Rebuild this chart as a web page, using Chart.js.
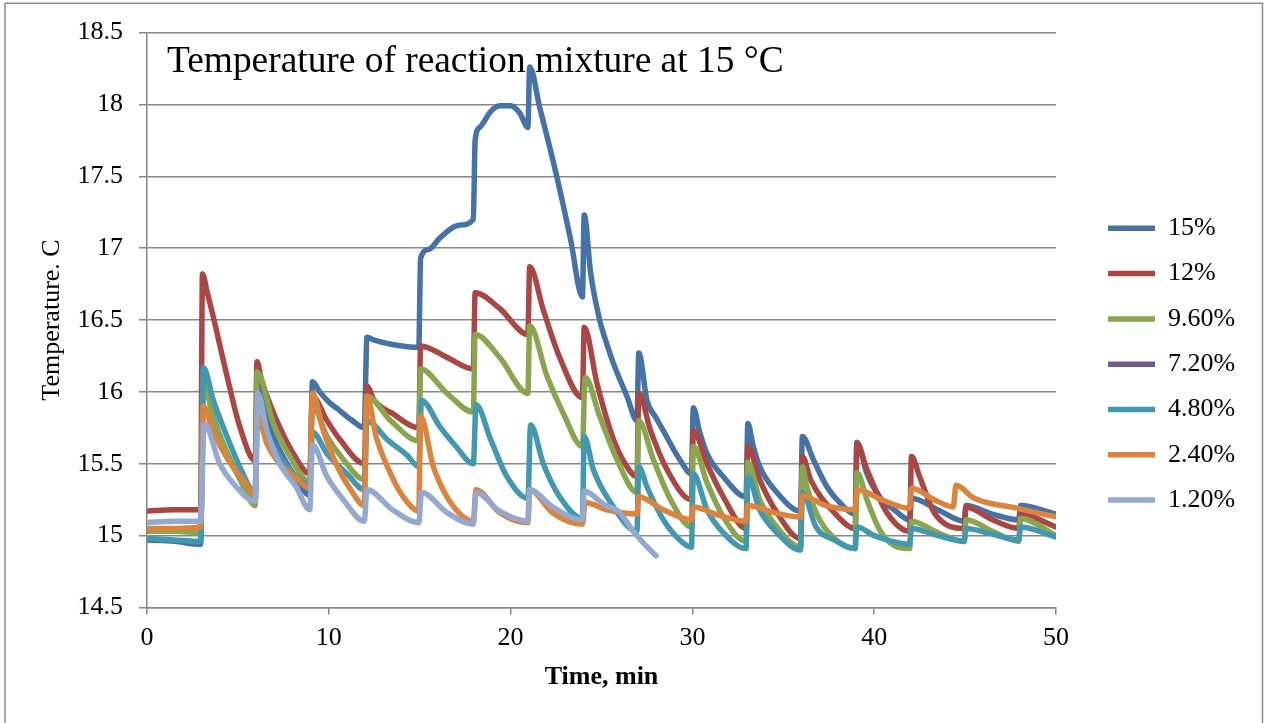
<!DOCTYPE html>
<html>
<head>
<meta charset="utf-8">
<script src="https://cdn.jsdelivr.net/npm/chart.js@4/dist/chart.umd.min.js"></script>
<style>
  html, body { margin: 0; padding: 0; background: #fff; overflow: hidden; }
  canvas { display: block; }
</style>
</head>
<body>
<canvas id="c" width="1266" height="723"></canvas>
<script>
// ---- data: [time (min), temperature (C)] ----
const labels = ['15%', '12%', '9.60%', '7.20%', '4.80%', '2.40%', '1.20%'];
const colors = ['#4572A7', '#AA4643', '#89A54E', '#71588F', '#4198AF', '#DB843D', '#93A9CF'];

const s15 = [[0,14.97],[1.5,14.96],[2.95,14.94],[3.1,16.1],[3.6,15.85],[4.3,15.6],[5.0,15.42],[5.95,15.23],[6.1,16.05],[6.6,15.8],[7.4,15.57],[8.2,15.4],[8.95,15.28],[9.1,16.07],[9.5,16.0],[10.0,15.93],[10.6,15.87],[11.3,15.8],[11.95,15.75],[12.1,16.38],[12.5,16.36],[13.5,16.33],[14.95,16.31],[15.05,16.93],[15.5,16.99],[16.1,17.07],[17.2,17.16],[17.95,17.2],[18.05,17.75],[18.3,17.84],[18.9,17.95],[19.4,17.99],[20.0,17.99],[20.5,17.94],[20.95,17.84],[21.05,18.26],[21.6,17.98],[22.5,17.52],[23.3,17.06],[23.95,16.66],[24.05,17.23],[24.4,16.83],[24.9,16.5],[25.3,16.33],[25.65,16.2],[26.4,15.97],[26.95,15.8],[27.05,16.27],[27.5,15.94],[28.0,15.82],[28.4,15.73],[29.3,15.53],[29.95,15.43],[30.05,15.89],[30.4,15.72],[30.8,15.57],[31.7,15.41],[32.95,15.27],[33.05,15.78],[33.35,15.62],[33.7,15.48],[34.65,15.3],[35.95,15.17],[36.05,15.69],[36.65,15.53],[37.4,15.34],[38.1,15.23],[38.95,15.15],[39.05,15.65],[39.6,15.43],[40.3,15.27],[41.1,15.18],[41.95,15.11],[42.05,15.26],[43.5,15.18],[44.95,15.1],[45.05,15.21],[46.5,15.15],[47.95,15.11],[48.05,15.21],[50,15.15]];

const s12 = [[0,15.17],[1.5,15.18],[2.95,15.18],[3.05,16.82],[3.3,16.7],[3.65,16.52],[4.4,16.11],[5.1,15.76],[5.95,15.52],[6.05,16.21],[6.3,16.08],[6.6,15.97],[7.35,15.74],[8.05,15.57],[8.95,15.43],[9.1,15.97],[9.9,15.8],[10.6,15.67],[11.95,15.5],[12.1,16.04],[12.5,15.94],[13.5,15.85],[14.95,15.75],[15.05,16.32],[16.5,16.24],[17.95,16.16],[18.05,16.69],[19.4,16.58],[20.95,16.4],[21.05,16.87],[21.8,16.57],[22.7,16.24],[23.95,15.96],[24.05,16.45],[24.75,16.06],[25.6,15.69],[26.3,15.5],[26.95,15.41],[27.05,15.99],[27.7,15.73],[28.6,15.46],[29.95,15.25],[30.05,15.73],[30.8,15.5],[31.7,15.27],[32.95,15.05],[33.05,15.62],[33.7,15.39],[34.65,15.16],[35.95,14.98],[36.05,15.55],[36.5,15.39],[37.8,15.16],[38.95,15.05],[39.05,15.64],[39.6,15.46],[40.7,15.16],[41.95,15.03],[42.05,15.55],[42.5,15.41],[43.3,15.16],[44.95,15.05],[45.05,15.2],[46.5,15.11],[47.95,15.05],[48.05,15.15],[50,15.06]];

const s96 = [[0,15.03],[1.5,15.03],[2.95,15.02],[3.1,16.05],[3.7,15.8],[4.4,15.58],[5.1,15.4],[5.95,15.21],[6.05,16.14],[6.95,15.78],[7.87,15.55],[8.95,15.37],[9.1,15.9],[9.9,15.69],[10.8,15.53],[11.95,15.39],[12.1,15.97],[13.4,15.8],[14.95,15.66],[15.05,16.16],[16.5,15.99],[17.95,15.86],[18.05,16.4],[19.4,16.24],[20.95,15.99],[21.05,16.46],[22.0,16.11],[22.9,15.85],[23.95,15.62],[24.1,16.1],[24.9,15.83],[25.85,15.53],[26.95,15.3],[27.05,15.8],[27.85,15.53],[28.8,15.25],[29.95,15.06],[30.05,15.62],[30.8,15.37],[31.7,15.13],[32.95,14.96],[33.05,15.51],[33.7,15.25],[34.65,15.06],[35.95,14.92],[36.05,15.48],[36.3,15.34],[37.0,15.11],[38.1,14.95],[38.95,14.91],[39.05,15.44],[39.6,15.25],[40.3,15.04],[41.1,14.93],[41.95,14.91],[42.05,15.1],[43.5,15.02],[44.95,14.96],[45.05,15.11],[46.5,15.03],[47.95,14.96],[48.05,15.12],[50,15.0]];

const s72 = [];

const s48 = [[0,14.98],[1.5,14.97],[2.95,14.96],[3.1,16.17],[3.65,15.94],[4.4,15.69],[5.1,15.48],[5.95,15.3],[6.05,15.77],[7.3,15.55],[8.2,15.41],[8.95,15.35],[9.1,15.72],[9.9,15.57],[11.0,15.43],[11.95,15.32],[12.1,15.8],[13.2,15.67],[14.3,15.56],[14.95,15.48],[15.1,15.94],[16.1,15.76],[17.0,15.62],[17.95,15.5],[18.1,15.91],[18.9,15.67],[19.8,15.41],[20.95,15.26],[21.1,15.77],[21.8,15.5],[22.7,15.27],[23.95,15.12],[24.05,15.69],[24.55,15.46],[25.5,15.23],[26.95,15.03],[27.05,15.48],[27.5,15.34],[28.4,15.11],[29.3,14.97],[29.95,14.92],[30.05,15.43],[30.8,15.18],[31.7,15.02],[32.95,14.91],[33.05,15.41],[33.7,15.18],[34.65,15.02],[35.95,14.9],[36.05,15.3],[36.8,15.06],[37.8,14.97],[38.95,14.91],[39.05,15.06],[40.0,15.0],[41.95,14.94],[42.05,15.05],[43.5,15.0],[44.95,14.96],[45.05,15.05],[46.5,15.01],[47.95,14.97],[48.05,15.06],[50,14.99]];

const s24 = [[0,15.05],[1.5,15.05],[2.95,15.06],[3.1,15.9],[3.65,15.72],[4.45,15.53],[5.4,15.37],[5.95,15.28],[6.05,15.85],[6.6,15.64],[7.3,15.5],[8.05,15.42],[8.95,15.33],[9.1,15.99],[9.7,15.73],[10.4,15.5],[11.2,15.32],[11.95,15.21],[12.1,15.97],[12.6,15.69],[13.4,15.43],[14.1,15.27],[14.95,15.17],[15.05,15.83],[15.75,15.48],[16.5,15.27],[17.4,15.13],[17.95,15.1],[18.1,15.32],[19.4,15.16],[20.95,15.09],[21.05,15.32],[22.3,15.16],[23.95,15.08],[24.1,15.23],[25.3,15.18],[26.95,15.15],[27.05,15.27],[28.4,15.18],[29.95,15.11],[30.05,15.2],[31.5,15.14],[32.95,15.1],[33.05,15.21],[34.5,15.16],[35.95,15.13],[36.05,15.28],[37.3,15.21],[38.95,15.18],[39.1,15.32],[40.4,15.25],[41.95,15.19],[42.05,15.33],[43.3,15.25],[44.35,15.2],[44.5,15.35],[45.5,15.26],[47.9,15.19],[50,15.13]];

const s12b = [[0,15.09],[1.5,15.1],[2.95,15.1],[3.15,15.78],[4.0,15.5],[4.7,15.37],[5.95,15.24],[6.1,15.99],[6.6,15.73],[7.3,15.5],[8.2,15.34],[8.95,15.18],[9.1,15.63],[9.9,15.41],[10.8,15.25],[11.95,15.1],[12.1,15.32],[13.5,15.18],[14.95,15.09],[15.1,15.3],[16.5,15.16],[17.95,15.08],[18.1,15.3],[19.4,15.17],[20.95,15.1],[21.05,15.32],[22.3,15.2],[23.95,15.11],[24.05,15.31],[25.1,15.22],[26.0,15.16],[26.75,15.03],[27.3,14.95],[28.0,14.86]];

const seriesValues = [s15, s12, s96, s72, s48, s24, s12b];
const xTicks = [0, 10, 20, 30, 40, 50];
const yTicks = [14.5, 15, 15.5, 16, 16.5, 17, 17.5, 18, 18.5];
const chartTitle = 'Temperature of reaction mixture at 15 °C';
const xTitle = 'Time, min';
const yTitle = 'Temperature. C';

// ---- chart ----
const FONT = "'Liberation Serif', 'Times New Roman', serif";
Chart.defaults.font.family = FONT;
Chart.defaults.color = '#000';

const GRID = '#878787';

const framePlugin = {
  id: 'frame',
  beforeDraw(chart) {
    const ctx = chart.ctx;
    ctx.save();
    ctx.fillStyle = '#fff';
    ctx.fillRect(0, 0, chart.width, chart.height);
    ctx.strokeStyle = '#8c8c8c';
    ctx.lineWidth = 1.5;
    ctx.strokeRect(5, 3.3, 1257.5, 740);
    ctx.restore();
  }
};

const innerTitlePlugin = {
  id: 'innerTitle',
  afterDraw(chart) {
    const ctx = chart.ctx;
    ctx.save();
    ctx.font = '37.4px ' + FONT;
    ctx.fillStyle = '#000';
    ctx.textAlign = 'left';
    ctx.textBaseline = 'alphabetic';
    ctx.fillText(chartTitle, chart.chartArea.left + 20, 72);
    ctx.restore();
  }
};

const datasets = labels.map((lab, i) => ({
  label: lab,
  data: seriesValues[i].map(p => ({ x: p[0], y: p[1] })),
  borderColor: colors[i],
  backgroundColor: colors[i],
  borderWidth: 5.5,
  borderCapStyle: 'round',
  borderJoinStyle: 'round',
  pointRadius: 0,
  pointHoverRadius: 0,
  fill: false,
  cubicInterpolationMode: 'monotone',
  order: labels.length - 1 - i
}));

new Chart(document.getElementById('c'), {
  type: 'line',
  data: { datasets },
  options: {
    responsive: false,
    animation: false,
    events: [],
    layout: { padding: { top: 32.5, left: 0, right: 20.8, bottom: 27.1 } },
    plugins: {
      title: { display: false },
      tooltip: { enabled: false },
      legend: {
        display: true,
        position: 'right',
        align: 'center',
        labels: {
          font: { size: 26, family: FONT },
          color: '#000',
          usePointStyle: true,
          pointStyle: 'line',
          pointStyleWidth: 47,
          padding: 19.3,
          sort: (a, b) => a.datasetIndex - b.datasetIndex
        }
      }
    },
    scales: {
      x: {
        type: 'linear',
        min: 0, max: 50,
        afterBuildTicks: s => { s.ticks = xTicks.map(v => ({ value: v })); },
        afterFit: s => { s.height = 723 - 27.1 - 607.5; },
        ticks: { font: { size: 26 }, color: '#000', padding: 8, maxRotation: 0, callback: v => String(v) },
        grid: { drawOnChartArea: false, drawTicks: true, tickLength: 7, color: GRID, lineWidth: 1.5 },
        border: { display: true, color: GRID, width: 1.5 },
        title: { display: true, text: xTitle, font: { size: 26, weight: 'bold' }, color: '#000', padding: { top: 0, bottom: 3.3 } }
      },
      y: {
        type: 'linear',
        position: 'left',
        min: 14.5, max: 18.5,
        afterBuildTicks: s => { s.ticks = yTicks.map(v => ({ value: v })); },
        afterFit: s => { s.width = 147; },
        ticks: { font: { size: 26 }, color: '#000', padding: 16, callback: v => String(v) },
        grid: { drawOnChartArea: true, drawTicks: true, tickLength: 8, color: GRID, lineWidth: 1.5 },
        border: { display: true, color: GRID, width: 1.5 },
        title: { display: true, text: yTitle, font: { size: 26 }, color: '#000', padding: { top: 37, bottom: 0 } }
      },
      gap: {
        type: 'linear',
        position: 'right',
        display: true,
        afterFit: s => { s.width = Math.max(0, 1266 - 20.8 - (s.chart.legend ? s.chart.legend.width : 156) - 1056); },
        ticks: { display: false },
        grid: { display: false, drawTicks: false },
        border: { display: false },
        title: { display: false }
      }
    }
  },
  plugins: [framePlugin, innerTitlePlugin]
});
</script>
</body>
</html>
